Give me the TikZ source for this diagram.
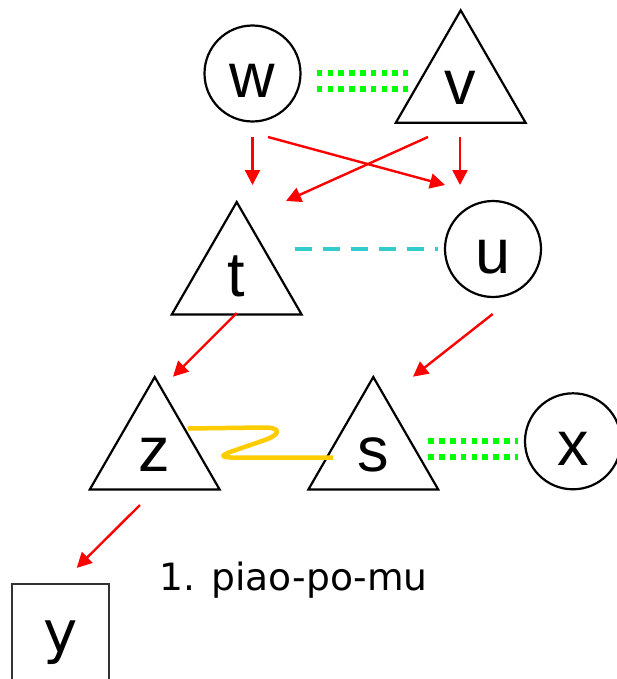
\documentclass[tikz,border=0pt]{standalone}
\usepackage{fontspec}
\setmainfont{Liberation Sans}
\newfontfamily\verd{DejaVu Sans}
\usepackage{tikz}
\usetikzlibrary{arrows.meta,calc,shapes.geometric}
\definecolor{dotgreen}{RGB}{0,255,0}
\definecolor{linkcyan}{RGB}{51,204,204}
\definecolor{linkgold}{RGB}{255,204,0}

\begin{document}
\begin{tikzpicture}[x=1pt,y=-1pt,
  ring/.style={circle,draw,line width=2.2pt,minimum size=96pt,inner sep=0pt,
    font=\fontsize{63}{63}\selectfont,text height=48pt,text depth=0pt},
  tri/.style={regular polygon,regular polygon sides=3,draw,line width=2.2pt,
    minimum size=145.5pt,inner sep=0pt,
    font=\fontsize{63}{63}\selectfont,text height=46pt,text depth=7pt},
  arr/.style={red,line width=2.4pt,-{Triangle[length=15pt,width=15pt]}},
  greendots/.style={dotgreen,line width=5.3pt,double=white,double distance=10.7pt,
    dash pattern=on 5.6pt off 5.2pt},
  cyandash/.style={linkcyan,line width=3.8pt,dash pattern=on 16.5pt off 11.5pt},
  goldwave/.style={linkgold,line width=4.5pt}]
\useasboundingbox (0,0) rectangle (616,679);
\node[ring] (w) at (252.5,73.5) {w};
\node[tri] (v) at (460.7,85.3) {v};
\node[tri] (t) at (236.7,277) {t};
\node[ring] (u) at (493,249) {u};
\node[tri] (z) at (154.7,452) {z};
\node[tri] (s) at (373.3,452) {s};
\node[ring] (x) at (573,441.3) {x};
\node[draw=black!80,line width=2.2pt,minimum width=97pt,minimum height=118pt,inner sep=0pt,
  font=\verd\fontsize{58}{58}\selectfont,text height=32pt,text depth=14pt] (y) at (60.7,643) {y};
\node[anchor=base west,inner sep=0pt,font=\verd\fontsize{37.6}{37.6}\selectfont] (cap) at (159.5,590) {1. piao-po-mu};

\draw[greendots] ($(w.center)+(64.2,7.5)$) -- ($(v.center)+(-52.7,-4.3)$);
\draw[greendots] ($(s.center)+(55,-3)$) -- ($(x.center)+(-55,7.7)$);
\draw[cyandash] ($(t.center)+(58.3,-27.7)$) -- ($(u.center)+(-54.7,0.3)$);
\draw[goldwave] ($(z.center)+(33.3,-23.5)$) -- (262,427.5)
  .. controls (283,427) and (281,435) .. (262,441) -- (233,451)
  .. controls (218,456) and (221,458) .. (240,457.5) -- ($(s.center)+(-40.3,5.7)$);

\draw[arr] ($(w.center)+(0,63.5)$) -- ($(t.center)+(15.8,-92)$);
\draw[arr] ($(w.center)+(15.5,63.5)$) -- ($(u.center)+(-48,-64)$);
\draw[arr] ($(v.center)+(-0.7,51.7)$) -- ($(u.center)+(-33,-64)$);
\draw[arr] ($(v.center)+(-32.7,51.7)$) -- ($(t.center)+(49.3,-76)$);
\draw[arr] ($(t.center)+(0,36)$) -- ($(z.center)+(18.3,-75.3)$);
\draw[arr] ($(u.center)+(-0.3,65)$) -- ($(s.center)+(39.7,-75.3)$);
\draw[arr] ($(z.center)+(-14.7,53)$) -- ($(y.north)+(16,-15)$);
\end{tikzpicture}
\end{document}
